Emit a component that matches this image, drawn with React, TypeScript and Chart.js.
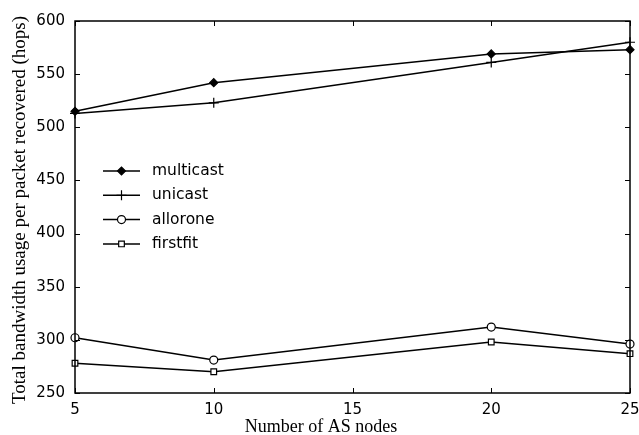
import React, { useEffect, useRef } from "react";
import { Chart, registerables } from "chart.js";
import { drawPoint } from "chart.js/helpers";

Chart.register(...registerables);

const xValues = [5, 10, 20, 25];
const multicast = [515, 542, 569, 573];
const unicast = [513, 523, 561, 580];
const allorone = [302, 281, 312, 296];
const firstfit = [278, 270, 298, 287];
const seriesNames = ["multicast", "unicast", "allorone", "firstfit"];
const xTicks = [5, 10, 15, 20, 25];
const yTicks = [250, 300, 350, 400, 450, 500, 550, 600];
const xTitle = "Number of AS nodes";
const yTitle = "Total bandwidth usage per packet recovered (hops)";

const SANS = "'DejaVu Sans', Verdana, sans-serif";
const SERIF = "'Liberation Serif', 'Times New Roman', serif";

const frameTicks = {
  id: "frameTicks",
  afterDatasetsDraw(chart: any) {
    const { ctx, chartArea, scales } = chart;
    const { left, right, top, bottom } = chartArea;
    ctx.save();
    ctx.strokeStyle = "#000";
    ctx.lineWidth = 1.5;
    ctx.strokeRect(left, top, right - left, bottom - top);
    ctx.lineWidth = 1;
    const L = 5;
    ctx.beginPath();
    for (const v of xTicks) {
      const x = Math.round(scales.x.getPixelForValue(v)) + 0.5;
      ctx.moveTo(x, bottom);
      ctx.lineTo(x, bottom - L);
      ctx.moveTo(x, top);
      ctx.lineTo(x, top + L);
    }
    for (const v of yTicks) {
      const y = Math.round(scales.y.getPixelForValue(v)) + 0.5;
      ctx.moveTo(left, y);
      ctx.lineTo(left + L, y);
      ctx.moveTo(right, y);
      ctx.lineTo(right - L, y);
    }
    ctx.stroke();

    // axis titles
    ctx.fillStyle = "#000";
    ctx.font = "18px " + SERIF;
    ctx.textAlign = "center";
    ctx.textBaseline = "alphabetic";
    ctx.fillText(xTitle, 321, 432);
    ctx.save();
    ctx.translate(25, 210);
    ctx.rotate(-Math.PI / 2);
    ctx.font = "19px " + SERIF;
    ctx.fillText(yTitle, 0, 0);
    ctx.restore();

    // legend
    const lx0 = 103, lx1 = 140, tx = 152;
    chart.data.datasets.forEach((ds: any, i: number) => {
      const y = 171 + i * 24.3;
      ctx.strokeStyle = "#000";
      ctx.lineWidth = 1.5;
      ctx.beginPath();
      ctx.moveTo(lx0, y);
      ctx.lineTo(lx1, y);
      ctx.stroke();
      ctx.fillStyle = ds.pointBackgroundColor;
      ctx.strokeStyle = "#000";
      ctx.lineWidth = 1.2;
      drawPoint(ctx, { pointStyle: ds.pointStyle, radius: ds.pointRadius, borderWidth: 1.2, rotation: 0 } as any, (lx0 + lx1) / 2, y);
      ctx.fillStyle = "#000";
      ctx.font = "15.5px " + SANS;
      ctx.textBaseline = "middle";
      ctx.textAlign = "left";
      ctx.fillText(seriesNames[i], tx, y);
    });
    ctx.restore();
  },
};

export default function App() {
  const ref = useRef<HTMLCanvasElement | null>(null);
  useEffect(() => {
    if (!ref.current) return;
    const mk = (label: string, vals: number[], style: string, fill: string, r: number) => ({
      label,
      data: xValues.map((x, i) => ({ x, y: vals[i] })),
      borderColor: "#000",
      borderWidth: 1.5,
      pointStyle: style,
      pointRadius: r,
      pointBackgroundColor: fill,
      pointBorderColor: "#000",
      pointBorderWidth: 1.2,
      tension: 0,
      fill: false,
      clip: false,
    });
    const chart = new Chart(ref.current, {
      type: "line",
      data: {
        datasets: [
          mk(seriesNames[0], multicast, "rectRot", "#000", 4),
          mk(seriesNames[1], unicast, "cross", "#000", 5),
          mk(seriesNames[2], allorone, "circle", "#fff", 4),
          mk(seriesNames[3], firstfit, "rect", "#fff", 4),
        ],
      },
      options: {
        animation: false,
        responsive: true,
        maintainAspectRatio: false,
        layout: { padding: { left: 0, right: 9, top: 21, bottom: 0 } },
        plugins: { legend: { display: false }, tooltip: { enabled: false } },
        scales: {
          x: {
            type: "linear",
            min: 5,
            max: 25,
            afterBuildTicks: (s: any) => { s.ticks = xTicks.map((v) => ({ value: v })); },
            afterFit: (s: any) => { s.height = 42; s.paddingLeft = 0; s.paddingRight = 0; },
            grid: { display: false, drawTicks: false },
            border: { display: false },
            ticks: {
              color: "#000",
              padding: 8,
              maxRotation: 0,
              font: { family: SANS, size: 15 },
            },
            title: { display: false },
          },
          y: {
            min: 250,
            max: 600,
            afterBuildTicks: (s: any) => { s.ticks = yTicks.map((v) => ({ value: v })); },
            afterFit: (s: any) => { s.width = 75; s.paddingTop = 0; s.paddingBottom = 0; },
            grid: { display: false, drawTicks: false },
            border: { display: false },
            ticks: {
              color: "#000",
              padding: 10,
              font: { family: SANS, size: 15 },
            },
            title: { display: false },
          },
        },
      },
      plugins: [frameTicks],
    });
    return () => chart.destroy();
  }, []);
  return (
    <div style={{ position: "fixed", left: 0, top: 0, width: 639, height: 435, background: "#fff" }}>
      <canvas ref={ref} />
    </div>
  );
}
